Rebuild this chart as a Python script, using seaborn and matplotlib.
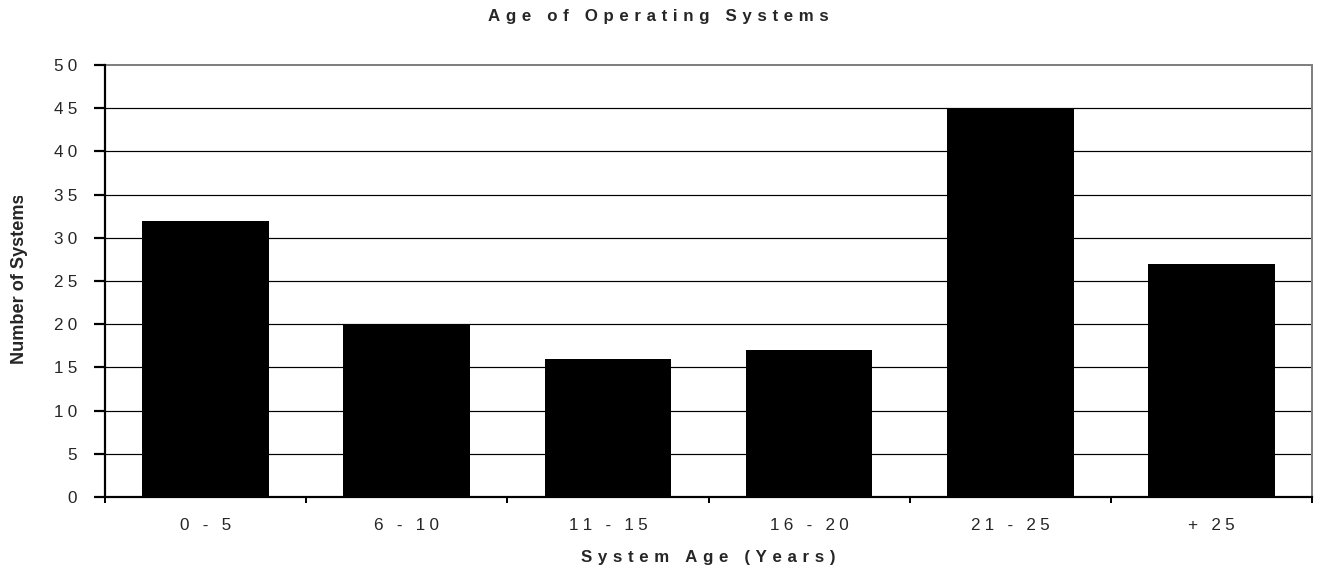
import numpy as np
import pandas as pd
import matplotlib
matplotlib.use("Agg")
import matplotlib.pyplot as plt
from matplotlib.transforms import Bbox
import seaborn as sns

# Survey counts of operating systems by age bracket
age_groups = ["0 - 5", "6 - 10", "11 - 15", "16 - 20", "21 - 25", "+ 25"]
system_counts = [32, 20, 16, 17, 45, 27]
y_ticks = [0, 5, 10, 15, 20, 25, 30, 35, 40, 45, 50]

TITLE = "Age of Operating Systems"
X_LABEL = "System Age (Years)"
Y_LABEL = "Number of Systems"

W, H, DPI = 1317, 567, 100
PT = 72 / DPI  # points per pixel


def spaced(text, gap):
    """Letter-spaced version of a label."""
    return gap.join(text)


TICK_GAP = "\u2005"   # quarter-em
LABEL_GAP = "\u2004"  # third-em

sns.set_theme(style="white")
plt.rcParams["font.family"] = ["Liberation Sans", "DejaVu Sans"]

df = pd.DataFrame({"age": age_groups, "count": system_counts})

fig = plt.figure(figsize=(W / DPI, H / DPI), dpi=DPI)
left, right, top, bottom = 105, 1312, 65, 497
ax = fig.add_axes([left / W, 1 - bottom / H, (right - left) / W, (bottom - top) / H])

sns.barplot(data=df, x="age", y="count", color="black", saturation=1,
            width=0.63, linewidth=0, edgecolor="black", ax=ax, zorder=3)

ax.set_ylim(0, 50)
ax.set_xlim(-0.5, len(age_groups) - 0.5)
ax.set_xlabel("")
ax.set_ylabel("")

# horizontal gridlines
ax.set_yticks(y_ticks)
ax.set_yticklabels([spaced(str(v), TICK_GAP) for v in y_ticks], fontsize=12.3)
for v in y_ticks[1:-1]:
    ax.axhline(v, color="black", lw=1.2 * PT, zorder=1)

# category boundaries carry the tick marks, labels sit at the centres
ax.set_xticks(np.arange(-0.5, len(age_groups)), minor=False)
ax.set_xticklabels([])
ax.set_xticks(np.arange(len(age_groups)), minor=True)
ax.set_xticklabels([spaced(a, TICK_GAP) for a in age_groups], minor=True,
                   fontsize=12.3)
ax.tick_params(axis="x", which="minor", length=0, pad=21 * PT)
ax.tick_params(axis="x", which="major", direction="out", length=6 * PT,
               width=2 * PT, color="black", bottom=True)
ax.tick_params(axis="y", direction="out", length=11 * PT, width=2.2 * PT,
               color="black", left=True, pad=17 * PT)

for side in ("left", "bottom"):
    ax.spines[side].set_color("black")
    ax.spines[side].set_linewidth(2.2 * PT)
    ax.spines[side].set_zorder(4)
for side in ("top", "right"):
    ax.spines[side].set_visible(True)
    ax.spines[side].set_color("#808080")
    ax.spines[side].set_linewidth(2 * PT)

# titles
fig.text(0.5, 1 - 21 / H, spaced(TITLE, LABEL_GAP), ha="center",
         va="baseline", fontsize=12.2, fontweight="bold")
fig.text((left + right) / 2 / W, 1 - 562 / H, spaced(X_LABEL, LABEL_GAP),
         ha="center", va="baseline", fontsize=12.2, fontweight="bold")
ylab = fig.text(20 / W, 1 - 279 / H, Y_LABEL, rotation=90, ha="center",
                va="center", fontsize=13.1, fontweight="bold")
ylab.set_clip_box(Bbox.from_extents(0, 0, 60, H - 196))
ylab.set_clip_on(True)

fig.savefig("out.png", dpi=DPI, facecolor="white")
